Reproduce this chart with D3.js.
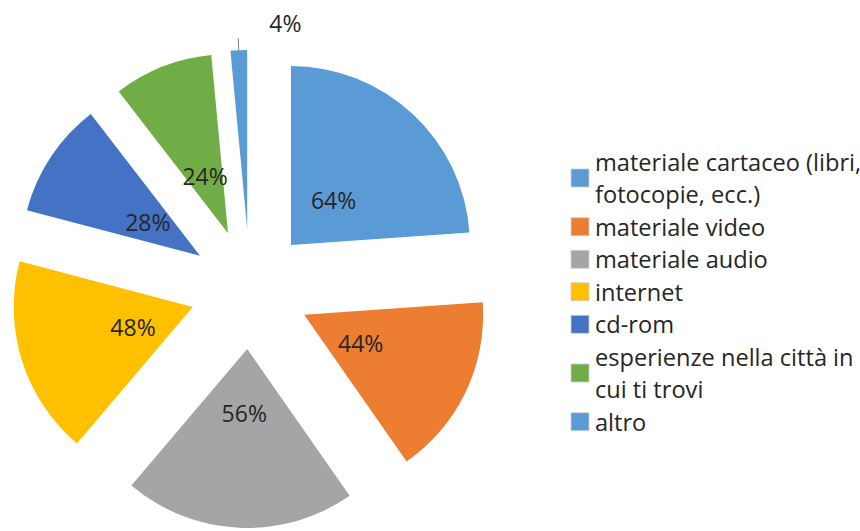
<!DOCTYPE html>
<html>
<head>
<meta charset="utf-8">
<script src="https://cdn.jsdelivr.net/npm/d3@7"></script>
<style>
	html, body { margin: 0; padding: 0; background: #fff; overflow: hidden; }
	svg { display: block; font-family: "Open Sans", "Noto Sans", sans-serif; }
</style>
</head>
<body>
<svg id="chart" width="860" height="531"></svg>
<script>
// --- Data ---
const categories = [
	"materiale cartaceo (libri, fotocopie, ecc.)",
	"materiale video",
	"materiale audio",
	"internet",
	"cd-rom",
	"esperienze nella città in cui ti trovi",
	"altro"
];
const values = [64, 44, 56, 48, 28, 24, 4];
const valueLabels = ["64%", "44%", "56%", "48%", "28%", "24%", "4%"];
// legend text broken in lines as in the picture
const legendLines = [
	["materiale cartaceo (libri,", "fotocopie, ecc.)"],
	["materiale video"],
	["materiale audio"],
	["internet"],
	["cd-rom"],
	["esperienze nella città in", "cui ti trovi"],
	["altro"]
];
const colors = ["#5B9BD5", "#ED7D31", "#A5A5A5", "#FFC000", "#4472C4", "#70AD47", "#5B9BD5"];

// --- Layout ---
const svg = d3.select("#chart");
const cx = 250, cy = 289;
const radius = 179;
const explode = 60;
const labelRadius = explode + radius * 0.35;
const FONT_SIZE = 23;
const LEGEND_FONT = 23.6;
const TEXT_COLOR = "#262626";

const pie = d3.pie().sort(null).value((d) => d)(values);
const arc = d3.arc().innerRadius(0).outerRadius(radius);
const at = (k) => d3.arc().innerRadius(k).outerRadius(k);

const g = svg.append("g").attr("transform", `translate(${cx},${cy})`);

// slices, each moved out along its bisector
g.selectAll("path.slice")
	.data(pie)
	.enter()
	.append("path")
	.attr("class", "slice")
	.attr("d", arc)
	.attr("fill", (d, i) => colors[i])
	.attr("transform", (d) => {
		const [x, y] = at(explode).centroid(d);
		return `translate(${x},${y})`;
	});

// inside labels (all but the tiny last slice)
g.selectAll("text.val")
	.data(pie.filter((d, i) => i < values.length - 1))
	.enter()
	.append("text")
	.attr("class", "val")
	.attr("x", (d) => at(labelRadius).centroid(d)[0])
	.attr("y", (d) => at(labelRadius).centroid(d)[1] + 1)
	.attr("text-anchor", "middle")
	.attr("dominant-baseline", "central")
	.attr("font-size", FONT_SIZE)
	.attr("fill", TEXT_COLOR)
	.text((d, i) => valueLabels[i]);

// outside label with leader line for "altro"
const last = pie[pie.length - 1];
const p0 = at(explode + radius).centroid(last);
const p1 = at(explode + radius + 12).centroid(last);
g.append("line")
	.attr("x1", p0[0]).attr("y1", p0[1])
	.attr("x2", p1[0]).attr("y2", p1[1])
	.attr("stroke", "#7f7f7f")
	.attr("stroke-width", 1);
g.append("text")
	.attr("x", p1[0] + 31)
	.attr("y", p1[1] - 15)
	.attr("dominant-baseline", "central")
	.attr("font-size", FONT_SIZE)
	.attr("fill", TEXT_COLOR)
	.text(valueLabels[values.length - 1]);

// --- Legend ---
const LEG_X = 571, LEG_TOP = 145.5, LINE_H = 32.5, BOX = 18;
let row = 0;
const legend = svg.append("g");
legendLines.forEach((lines, i) => {
	const top = LEG_TOP + row * LINE_H;
	const midY = top + (lines.length * LINE_H) / 2;
	legend.append("rect")
		.attr("x", LEG_X)
		.attr("y", midY - BOX / 2)
		.attr("width", BOX)
		.attr("height", BOX)
		.attr("fill", colors[i])
		.attr("stroke", "#d0d0d0")
		.attr("stroke-width", 0.8);
	lines.forEach((t, j) => {
		legend.append("text")
			.attr("x", LEG_X + 24)
			.attr("y", top + LINE_H * j + LINE_H / 2)
			.attr("dominant-baseline", "central")
			.attr("font-size", LEGEND_FONT)
			.attr("fill", TEXT_COLOR)
			.text(t);
	});
	row += lines.length;
});
</script>
</body>
</html>
